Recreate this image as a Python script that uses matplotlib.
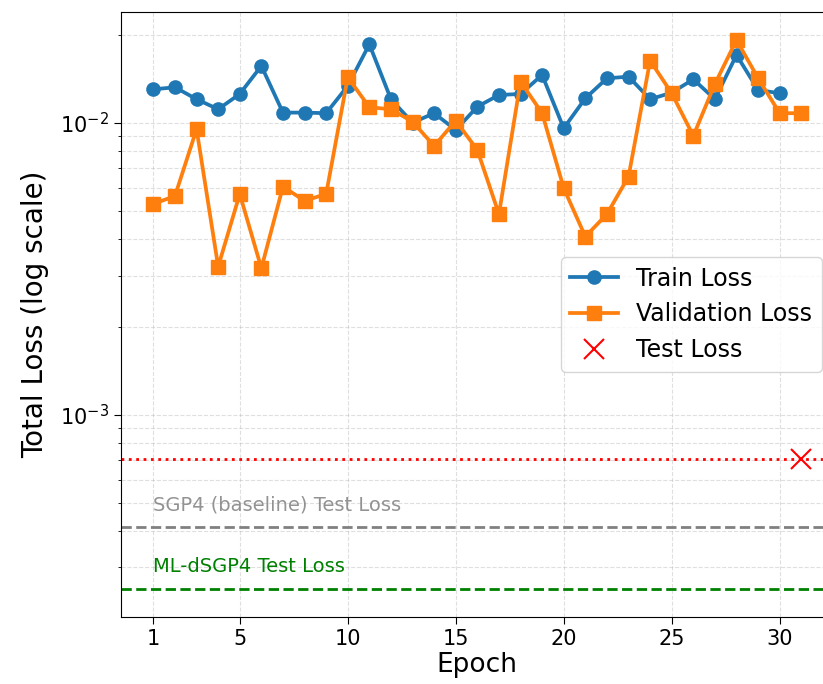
import numpy as np
import matplotlib.pyplot as plt

train_loss = [0.01304, 0.01325, 0.01206, 0.01114, 0.01257, 0.01568, 0.01085, 0.01085,
              0.01080, 0.01339, 0.01860, 0.01206, 0.01002, 0.01080, 0.00946, 0.01137,
              0.01247, 0.01257, 0.01460, 0.00959, 0.01215, 0.01422, 0.01441, 0.01206,
              0.01270, 0.01411, 0.01206, 0.01710, 0.01297, 0.01264]
val_loss = [0.00528, 0.00562, 0.00952, 0.00322, 0.00571, 0.00318, 0.00605, 0.00541,
            0.00571, 0.01434, 0.01132, 0.01114, 0.01010, 0.00834, 0.01018, 0.00808,
            0.00487, 0.01385, 0.01080, 0.00598, 0.00408, 0.00487, 0.00655, 0.01635,
            0.01264, 0.00903, 0.01360, 0.01924, 0.01422, 0.01080, 0.01080]
test_loss = 7.08e-4
test_epoch = 31
sgp4_loss = 4.14e-4
ml_dsgp4_loss = 2.54e-4

train_epochs = np.arange(1, len(train_loss) + 1)
val_epochs = np.arange(1, len(val_loss) + 1)

fig = plt.figure(figsize=(8.23, 6.84), dpi=100)
ax = fig.add_axes([0.147, 0.098, 0.866, 0.8845])

ax.plot(train_epochs, train_loss, 'o-', color='#1f77b4', lw=2.7, ms=9.5, label='Train Loss')
ax.plot(val_epochs, val_loss, 's-', color='#ff7f0e', lw=2.7, ms=9.5, label='Validation Loss')
ax.plot(test_epoch, test_loss, 'x', color='red', ms=14, mew=1.5, label='Test Loss')
ax.axhline(test_loss, color='red', ls=':', lw=2)

ax.axhline(sgp4_loss, color='gray', ls='--', lw=2)
ax.text(1, sgp4_loss * 1.1, 'SGP4 (baseline) Test Loss', color='gray', alpha=0.85,
        fontsize=14, va='bottom')
ax.axhline(ml_dsgp4_loss, color='green', ls='--', lw=2)
ax.text(1, ml_dsgp4_loss * 1.1, 'ML-dSGP4 Test Loss', color='green', fontsize=14, va='bottom')

ax.set_yscale('log')
ax.set_ylim(2.03e-4, 0.024)
ax.set_xlim(-0.5, 32.5)
ax.set_xticks([1, 5, 10, 15, 20, 25, 30])
ax.tick_params(labelsize=15)
ax.tick_params(which='major', length=5)
ax.grid(True, which='both', ls='--', alpha=0.4)
ax.set_xlabel('Epoch', fontsize=19, labelpad=2)
ax.set_ylabel('Total Loss (log scale)', fontsize=20, labelpad=8)
ax.legend(loc='center right', fontsize=17)

fig.savefig('out.png', dpi=100)
